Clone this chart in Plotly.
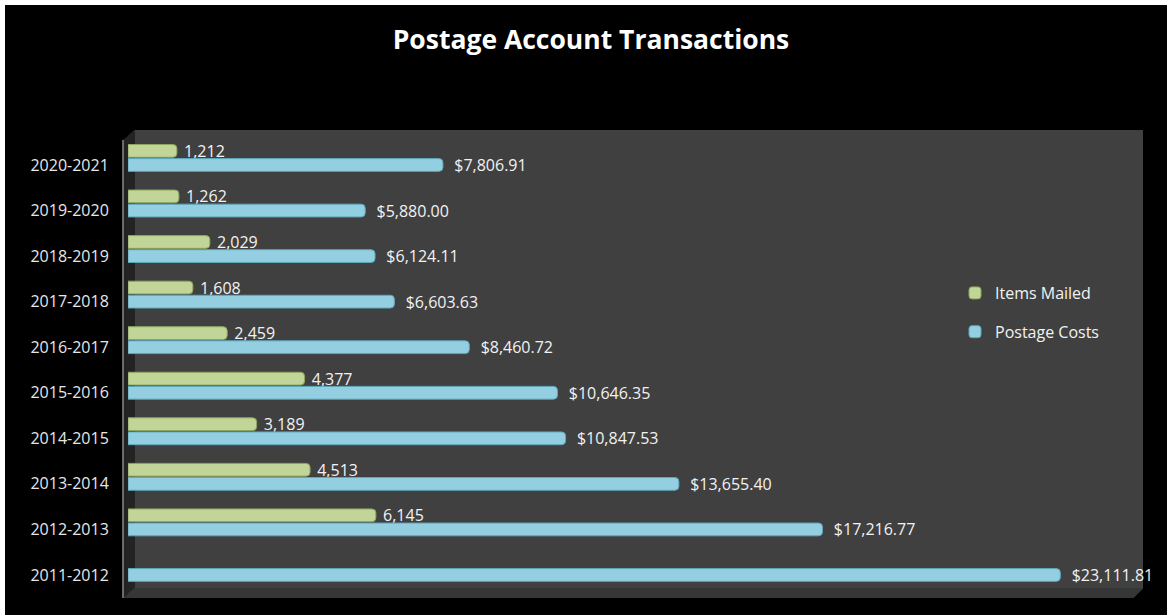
import plotly.graph_objects as go

# ---------------- data ----------------
years = ["2011-2012", "2012-2013", "2013-2014", "2014-2015", "2015-2016",
         "2016-2017", "2017-2018", "2018-2019", "2019-2020", "2020-2021"]
items_mailed = [None, 6145, 4513, 3189, 4377, 2459, 1608, 2029, 1262, 1212]
postage_costs = [23111.81, 17216.77, 13655.40, 10847.53, 10646.35,
                 8460.72, 6603.63, 6124.11, 5880.00, 7806.91]

items_text = ["" if v is None else "\u00a0" + f"{v:,}" for v in items_mailed]
cost_text = ["\u00a0\u00a0$" + f"{v:,.2f}" for v in postage_costs]

# ---------------- layout geometry (pixels) ----------------
W, H = 1167, 615
PL, PR, PT, PB = 128, 1143, 130, 598


def px(x):
    return (x - PL) / (PR - PL)


def py(y):
    return (PB - y) / (PB - PT)


FONT = "Open Sans"
GREEN = "#c0d597"
GREEN_LINE = "#8ea65c"
BLUE = "#93cfe0"
BLUE_LINE = "#5ea7bc"

fig = go.Figure()
fig.add_trace(go.Bar(
    name="Items Mailed", y=years, x=items_mailed, orientation="h",
    marker=dict(color=GREEN, line=dict(color=GREEN_LINE, width=1), cornerradius=4),
    width=0.28, offset=0.17,
    text=items_text, textposition="outside", constraintext="none", cliponaxis=False,
    textfont=dict(family=FONT, size=16, color="#f2f2f2"),
    legendgroup="a",
))
fig.add_trace(go.Bar(
    name="Postage Costs", y=years, x=postage_costs, orientation="h",
    marker=dict(color=BLUE, line=dict(color=BLUE_LINE, width=1), cornerradius=4),
    width=0.28, offset=-0.14,
    text=cost_text, textposition="outside", constraintext="none", cliponaxis=False,
    textfont=dict(family=FONT, size=16, color="#f2f2f2"),
    legendgroup="b",
))

shapes = []
# left wall
shapes.append(dict(type="path", xref="paper", yref="paper", layer="below",
                   path=f"M {px(123)} {py(140)} L {px(135)} {py(130)} L {px(135)} {py(588)} L {px(123)} {py(598)} Z",
                   fillcolor="#232323", line=dict(width=0)))
# black corner above the wall slant
shapes.append(dict(type="path", xref="paper", yref="paper", layer="below",
                   path=f"M {px(127.5)} {py(129.5)} L {px(135)} {py(129.5)} L {px(127.5)} {py(136.3)} Z",
                   fillcolor="#000000", line=dict(width=0)))
# floor
shapes.append(dict(type="path", xref="paper", yref="paper", layer="below",
                   path=f"M {px(123)} {py(598)} L {px(135)} {py(588)} L {px(1143)} {py(588)} L {px(1133)} {py(598)} Z",
                   fillcolor="#363636", line=dict(width=0)))
# black corner right of floor slant
shapes.append(dict(type="path", xref="paper", yref="paper", layer="below",
                   path=f"M {px(1143.5)} {py(588)} L {px(1143.5)} {py(598.5)} L {px(1133)} {py(598.5)} Z",
                   fillcolor="#000000", line=dict(width=0)))
# axis line
shapes.append(dict(type="line", xref="paper", yref="paper", layer="above",
                   x0=px(123), x1=px(123), y0=py(140), y1=py(598),
                   line=dict(color="#8a8a8a", width=1.5)))
# white border strips (top / left)
shapes.append(dict(type="rect", xref="paper", yref="paper", layer="above",
                   x0=px(0), x1=px(W), y0=py(0), y1=py(5),
                   fillcolor="#ffffff", line=dict(width=0)))
shapes.append(dict(type="rect", xref="paper", yref="paper", layer="above",
                   x0=px(0), x1=px(5), y0=py(0), y1=py(H),
                   fillcolor="#ffffff", line=dict(width=0)))

fig.update_layout(
    width=W, height=H,
    margin=dict(l=PL, r=W - PR, t=PT, b=H - PB, pad=0),
    paper_bgcolor="#000000", plot_bgcolor="#404040",
    barmode="overlay",
    title=dict(text="<b>Postage Account Transactions</b>", x=591 / W, xanchor="center",
               y=1 - 40 / H, yanchor="middle",
               font=dict(family=FONT, size=26.5, color="#ffffff")),
    xaxis=dict(range=[0, 25161], showgrid=False, zeroline=False, showticklabels=False,
               showline=False, fixedrange=True),
    yaxis=dict(type="category", categoryorder="array", categoryarray=years,
               range=[-0.505, 9.768], showgrid=False, zeroline=False, showline=False,
               ticks="outside", ticklen=15, tickcolor="rgba(0,0,0,0)",
               tickfont=dict(family=FONT, size=16, color="#e6e6e6")),
    legend=dict(x=px(955), y=py(276), xanchor="left", yanchor="top",
                bgcolor="rgba(0,0,0,0)", traceorder="grouped", tracegroupgap=15,
                font=dict(family=FONT, size=16, color="#f2f2f2")),
    shapes=shapes,
    showlegend=True,
)

fig.write_html("out.html", config={"displayModeBar": False},
               post_script="document.body.style.margin='0';document.body.style.overflow='hidden';")
